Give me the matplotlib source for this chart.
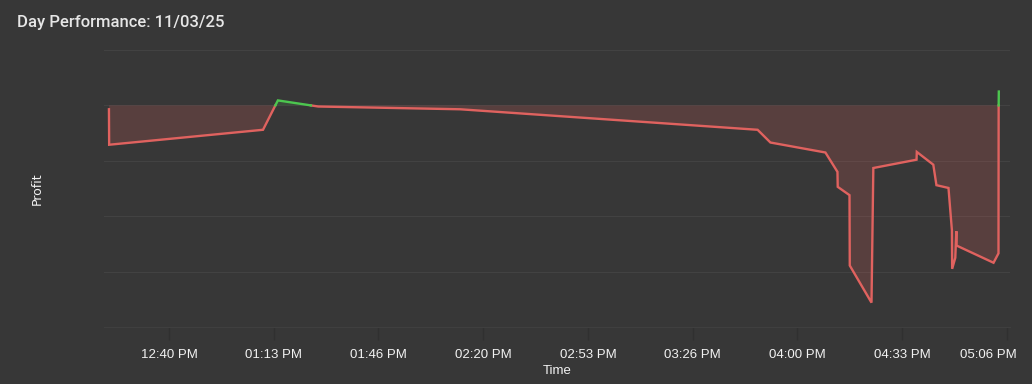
import matplotlib
matplotlib.use("Agg")
import matplotlib.pyplot as plt
import matplotlib.dates as mdates
import matplotlib.transforms as mtransforms
import numpy as np
import pandas as pd

# trade-by-trade cumulative profit, 11/03/25
times = [
    "12:20:54", "12:20:58", "13:09:56", "13:14:40", "13:27:30", "14:12:40",
    "15:47:20", "15:51:25", "16:08:55", "16:12:45", "16:12:50", "16:16:35",
    "16:16:40", "16:23:35", "16:24:10", "16:37:55", "16:38:00", "16:43:15",
    "16:44:15", "16:48:05", "16:49:10", "16:49:15", "16:50:15", "16:50:35",
    "16:50:40", "17:02:25", "17:04:00", "17:04:03", "17:04:06",
]
profit = [
    -7, -71, -44, 9, -2, -7,
    -44, -67, -85, -120, -147, -162,
    -289, -356, -113, -98, -84, -107,
    -144, -149, -225, -295, -275, -227,
    -253, -284, -267, -2, 25,
]

DAY = "2025-11-03 "
BG = "#373737"
RED = "#e0625f"
GREEN = "#4cc64f"

t = mdates.date2num(pd.to_datetime([DAY + s for s in times]))
v = np.array(profit, dtype=float)

# insert zero crossings so the line changes colour exactly at 0
xs, ys = [t[0]], [v[0]]
for i in range(1, len(t)):
    if (v[i - 1] < 0) != (v[i] < 0) and v[i] != v[i - 1]:
        f = v[i - 1] / (v[i - 1] - v[i])
        xs.append(t[i - 1] + f * (t[i] - t[i - 1]))
        ys.append(0.0)
    xs.append(t[i])
    ys.append(v[i])
xs = np.array(xs)
ys = np.array(ys)

fig = plt.figure(figsize=(10.32, 3.84), dpi=100, facecolor=BG)
ax = fig.add_axes([0.1008, 0.1484, 0.8779, 0.7214], facecolor=BG)

ax.fill_between(xs, ys, 0, where=ys <= 0, color=RED, alpha=0.2, lw=0, interpolate=True)
ax.fill_between(xs, ys, 0, where=ys >= 0, color=GREEN, alpha=0.15, lw=0, interpolate=True)
ax.plot(xs, np.ma.masked_where(ys > 0, ys), color=RED, lw=1.7, solid_joinstyle="miter")
ax.plot(xs, np.ma.masked_where(ys < 0, ys), color=GREEN, lw=1.7, solid_joinstyle="miter")

start = pd.Timestamp(DAY + "12:19:20")
end = pd.Timestamp(DAY + "17:07:40")
ax.set_xlim(mdates.date2num(start), mdates.date2num(end))
ax.set_ylim(-400, 100)

ticks = pd.date_range(DAY + "12:40:00", periods=9, freq="2000s")
ax.set_xticks(mdates.date2num(ticks))
ax.set_xticklabels([d.strftime("%I:%M %p") for d in ticks])
ax.set_yticks(np.arange(-400, 101, 100))
ax.set_yticklabels([])
ax.tick_params(axis="y", length=0)
ax.tick_params(axis="x", length=9, width=1, color="#303030", pad=7,
               labelcolor="#f2f2f2", labelsize=9.5)
for lab in ax.get_xticklabels():
    lab.set_fontfamily("Liberation Sans")
last = ax.get_xticklabels()[-1]
last.set_ha("right")
last.set_transform(last.get_transform() + mtransforms.ScaledTranslation(10 / 100, 0, fig.dpi_scale_trans))

ax.grid(axis="y", color="#424242", lw=0.8)
ax.set_axisbelow(True)
for side in ["top", "right", "left"]:
    ax.spines[side].set_visible(False)
ax.spines["bottom"].set_color("#3f3f3f")

ax.set_xlabel("Time", color="#f2f2f2", fontsize=9.5, family="Liberation Sans", labelpad=3)
ax.set_ylabel("Profit", color="#f2f2f2", fontsize=9, family="DejaVu Sans", labelpad=40)

fig.text(0.0165, 0.93, "Day Performance: 11/03/25", color="#e6e6e6", fontsize=12,
         family="Roboto", weight="medium", ha="left", va="baseline")

fig.savefig("out.png", dpi=100, facecolor=BG)
